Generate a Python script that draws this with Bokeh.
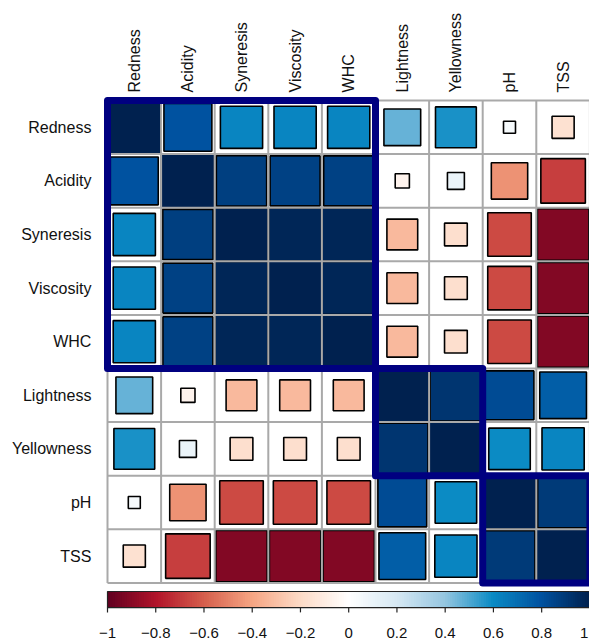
import numpy as np
from bokeh.plotting import figure
from bokeh.models import Range1d, ColumnDataSource
from bokeh.core.properties import value
from bokeh.embed import file_html
from bokeh.resources import INLINE

# ---------------- data ----------------
variables = ["Redness", "Acidity", "Syneresis", "Viscosity", "WHC",
             "Lightness", "Yellowness", "pH", "TSS"]

# lower triangle of the correlation matrix, row by row
r_redness    = [1.00]
r_acidity    = [0.80, 1.00]
r_syneresis  = [0.62, 0.88, 1.00]
r_viscosity  = [0.62, 0.87, 0.98, 1.00]
r_whc        = [0.62, 0.87, 0.98, 0.98, 1.00]
r_lightness  = [0.47, -0.07, -0.33, -0.33, -0.33, 1.00]
r_yellowness = [0.58, 0.10, -0.18, -0.18, -0.18, 0.92, 1.00]
r_ph         = [0.05, -0.46, -0.66, -0.66, -0.66, 0.83, 0.60, 1.00]
r_tss        = [-0.17, -0.69, -0.92, -0.92, -0.92, 0.76, 0.62, 0.90, 1.00]

clusters = [(0, 5), (5, 7), (7, 9)]          # index ranges of hierarchical clusters
cbar_ticks = [-1.0, -0.8, -0.6, -0.4, -0.2, 0.0, 0.2, 0.4, 0.6, 0.8, 1.0]

# ---------------- palette ----------------
anchor_vals = [-1.0, -0.8, -0.6, -0.4, -0.2, 0.0, 0.2, 0.4, 0.6, 0.8, 1.0]
anchor_cols = ["#620020", "#B2142A", "#D6604D", "#F6A684", "#FDDBC7", "#FFFFFF",
               "#D6E8F3", "#95C6E0", "#0A8AC4", "#0052A0", "#00214F"]

def hex2rgb(h):
    return [int(h[i:i + 2], 16) for i in (1, 3, 5)]

rgb = np.array([hex2rgb(c) for c in anchor_cols], dtype=float)
N = 200
vals = np.linspace(-1, 1, N)
palette = []
for v in vals:
    c = [int(round(np.interp(v, anchor_vals, rgb[:, k]))) for k in range(3)]
    palette.append("#%02x%02x%02x" % tuple(c))

def color_of(r):
    i = int(round((r + 1) / 2 * (N - 1)))
    return palette[max(0, min(N - 1, i))]

lower = [r_redness, r_acidity, r_syneresis, r_viscosity, r_whc,
         r_lightness, r_yellowness, r_ph, r_tss]
n = len(variables)
M = np.zeros((n, n))
for i, row in enumerate(lower):
    for j, v in enumerate(row):
        M[i, j] = v
        M[j, i] = v

# ---------------- figure ----------------
CELL = 53.6
W, H = 589, 643
GRID_LEFT, GRID_TOP = 107, 100
x0 = -GRID_LEFT / CELL
x1 = x0 + W / CELL
y1 = n + GRID_TOP / CELL
y0 = y1 - H / CELL

p = figure(width=W, height=H, output_backend="svg", toolbar_location=None,
           x_range=Range1d(x0, x1), y_range=Range1d(y0, y1),
           min_border=0, min_border_left=0, min_border_right=0,
           min_border_top=0, min_border_bottom=0)
p.axis.visible = False
p.grid.visible = False
p.outline_line_color = None
p.background_fill_color = "white"
p.border_fill_color = "white"

FONT = value("Liberation Sans")

# squares
xs, ys, sz, cols = [], [], [], []
for i in range(n):
    for j in range(n):
        r = M[i, j]
        xs.append(j + 0.5)
        ys.append(n - i - 0.5)
        sz.append(np.sqrt(abs(r)))
        cols.append(color_of(r))
src = ColumnDataSource(dict(x=xs, y=ys, s=sz, c=cols))
p.rect(x="x", y="y", width="s", height="s", fill_color="c", line_color="black",
       line_width=1.6, source=src)

# grid lines
gx0, gy0, gx1, gy1 = [], [], [], []
for k in range(n + 1):
    gx0 += [k, 0]; gx1 += [k, n]
    gy0 += [0, k]; gy1 += [n, k]
p.segment(x0=gx0, y0=gy0, x1=gx1, y1=gy1, line_color="#A9A9A9", line_width=2)

# cluster rectangles
for a, b in clusters:
    p.rect(x=(a + b) / 2, y=n - (a + b) / 2, width=b - a, height=b - a,
           fill_color=None, line_color="#000080", line_width=7, line_join="round")

# labels
p.text(x=[-0.30] * n, y=[n - i - 0.5 for i in range(n)], text=variables,
       text_align="right", text_baseline="middle", text_font=FONT,
       text_font_size="16px", text_color="#111111")
p.text(x=[j + 0.5 for j in range(n)], y=[n + 0.15] * n, text=variables,
       angle=np.pi / 2, text_align="left", text_baseline="middle", text_font=FONT,
       text_font_size="16px", text_color="#111111")

# colour bar
cb_top, cb_bot = -0.16, -0.46
seg = n / N
p.quad(left=[k * seg for k in range(N)], right=[(k + 1) * seg + 0.03 for k in range(N)],
       top=cb_top, bottom=cb_bot, fill_color=palette, line_color=None)
p.quad(left=0, right=n, top=cb_top, bottom=cb_bot, fill_color=None,
       line_color="#222222", line_width=1.2)
tx = [(t + 1) / 2 * n for t in cbar_ticks]
p.segment(x0=tx, y0=[cb_bot] * len(tx), x1=tx, y1=[cb_bot - 0.09] * len(tx),
          line_color="#222222", line_width=1.2)

def fmt(t):
    s = ("%g" % round(t, 1))
    return s.replace("-", "\u2212")

labels = [fmt(t) for t in cbar_ticks]
p.text(x=tx[:-1], y=[-0.93] * (len(tx) - 1), text=labels[:-1],
       text_align="center", text_baseline="middle", text_font=FONT,
       text_font_size="15px", text_color="#111111")
# last label kept inside the page edge
p.text(x=[x1 - 0.02], y=[-0.93], text=labels[-1:],
       text_align="right", text_baseline="middle", text_font=FONT,
       text_font_size="15px", text_color="#111111")

open("out.html", "w").write(file_html(p, INLINE))
